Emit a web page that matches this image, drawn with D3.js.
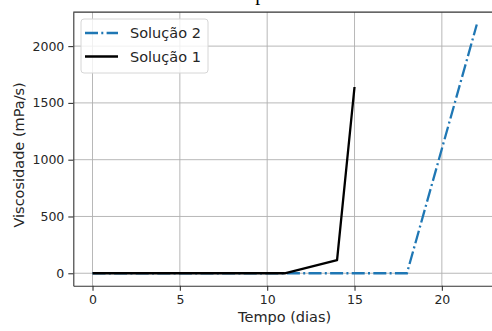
<!DOCTYPE html>
<html>
<head>
<meta charset="utf-8">
<script src="https://cdn.jsdelivr.net/npm/d3@7"></script>
<style>
  body { margin: 0; background: #fff; }
  svg { display: block; }
  text { font-family: "DejaVu Sans", sans-serif; fill: #262626; }
</style>
</head>
<body>
<div id="chart"></div>
<script>
// values
const dias1 = [0, 11, 14, 15];
const visc1 = [0, 0, 115, 1640];
const dias2 = [0, 11, 14, 15, 18, 22];
const visc2 = [0, 0, 0, 0, 0, 2190];
const xTicks = [0, 5, 10, 15, 20];
const yTicks = [0, 500, 1000, 1500, 2000];
const seriesNames = ["Solução 2", "Solução 1"];

const width = 492, height = 331;
const svg = d3.select("#chart").append("svg")
  .attr("width", width)
  .attr("height", height);

const plotLeft = 73.3, plotTop = 12.1, plotRight = 496, plotBottom = 285.7;

const x = d3.scaleLinear().domain([-1.1, 23.1]).range([plotLeft, plotRight]);
const y = d3.scaleLinear().domain([-109.5, 2299.5]).range([plotBottom, plotTop]);

// title, mostly cut off above the picture
svg.append("text")
  .attr("x", (plotLeft + plotRight) / 2)
  .attr("y", 0)
  .attr("text-anchor", "middle")
  .style("font-family", "'Liberation Serif', serif")
  .style("font-size", "20px")
  .style("fill", "#000")
  .text("Experimento");

// grid
const grid = svg.append("g").attr("stroke", "#b0b0b0").attr("stroke-width", 0.9);
grid.selectAll(".gx").data(xTicks).enter().append("line")
  .attr("x1", d => x(d)).attr("x2", d => x(d))
  .attr("y1", plotTop).attr("y2", plotBottom);
grid.selectAll(".gy").data(yTicks).enter().append("line")
  .attr("x1", plotLeft).attr("x2", plotRight)
  .attr("y1", d => y(d)).attr("y2", d => y(d));

// lines
const line = d3.line().x(d => x(d[0])).y(d => y(d[1]));

svg.append("path")
  .datum(d3.zip(dias2, visc2))
  .attr("d", line)
  .attr("fill", "none")
  .attr("stroke", "#1f77b4")
  .attr("stroke-width", 2.3)
  .attr("stroke-dasharray", "13,3.3,2,3.3");

svg.append("path")
  .datum(d3.zip(dias1, visc1))
  .attr("d", line)
  .attr("fill", "none")
  .attr("stroke", "#000")
  .attr("stroke-width", 2.3)
  .attr("stroke-linejoin", "round");

// axes
const xAxis = svg.append("g")
  .attr("transform", `translate(0,${plotBottom})`)
  .call(d3.axisBottom(x).tickValues(xTicks).tickFormat(d3.format("d"))
    .tickSizeInner(5).tickSizeOuter(0).tickPadding(4));
const yAxis = svg.append("g")
  .attr("transform", `translate(${plotLeft},0)`)
  .call(d3.axisLeft(y).tickValues(yTicks).tickFormat(d3.format("d"))
    .tickSizeInner(5).tickSizeOuter(0).tickPadding(4));

[xAxis, yAxis].forEach(a => {
  a.select(".domain").attr("stroke", "#333").attr("stroke-width", 1.1);
  a.selectAll(".tick line").attr("stroke", "#333").attr("stroke-width", 1.1);
  a.selectAll(".tick text").style("font-size", "12.5px").attr("fill", "#262626")
    .style("font-family", "'DejaVu Sans', sans-serif");
});

// top spine
svg.append("line")
  .attr("x1", plotLeft).attr("x2", plotRight)
  .attr("y1", plotTop).attr("y2", plotTop)
  .attr("stroke", "#333").attr("stroke-width", 1.1);

// axis labels
svg.append("text")
  .attr("x", (plotLeft + plotRight) / 2)
  .attr("y", 322)
  .attr("text-anchor", "middle")
  .style("font-size", "14.5px")
  .text("Tempo (dias)");

svg.append("text")
  .attr("transform", `translate(24,${(plotTop + plotBottom) / 2 + 6}) rotate(-90)`)
  .attr("text-anchor", "middle")
  .style("font-size", "14.5px")
  .text("Viscosidade (mPa/s)");

// legend
const legend = svg.append("g");
legend.append("rect")
  .attr("x", 81).attr("y", 19)
  .attr("width", 127).attr("height", 54)
  .attr("rx", 3)
  .attr("fill", "#fff").attr("fill-opacity", 0.8)
  .attr("stroke", "#d6d6d6");

const legendStyles = [
  { color: "#1f77b4", dash: "13,3.3,2,3.3" },
  { color: "#000", dash: null }
];
seriesNames.forEach((name, i) => {
  const yy = 33 + i * 23.5;
  legend.append("line")
    .attr("x1", 85).attr("x2", 118)
    .attr("y1", yy).attr("y2", yy)
    .attr("stroke", legendStyles[i].color)
    .attr("stroke-width", 2.3)
    .attr("stroke-dasharray", legendStyles[i].dash);
  legend.append("text")
    .attr("x", 130).attr("y", yy + 5)
    .style("font-size", "14.5px")
    .text(name);
});
</script>
</body>
</html>
